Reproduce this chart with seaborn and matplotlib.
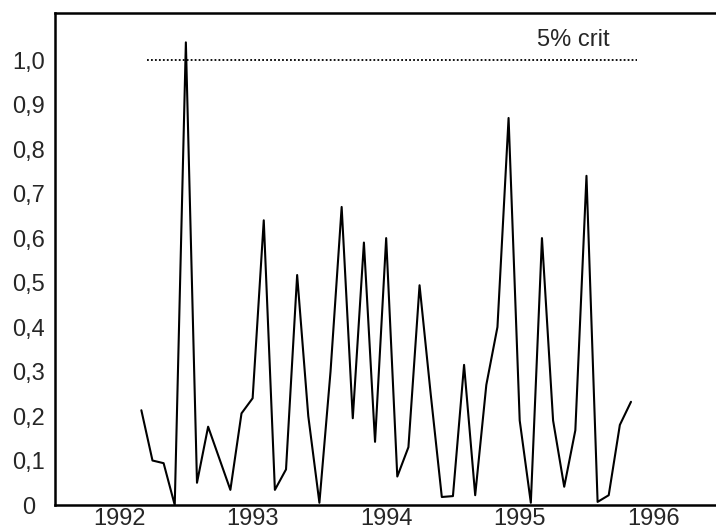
import numpy as np
import pandas as pd
import matplotlib
matplotlib.use('Agg')
import matplotlib.pyplot as plt
import seaborn as sns
from matplotlib.ticker import FuncFormatter, MultipleLocator, FixedLocator

# monthly values, March 1992 .. November 1995
start_year = 1992
start_month = 3
values = [0.213, 0.10, 0.094, 0.0, 1.04, 0.05, 0.176, 0.105, 0.034, 0.206,
          0.24, 0.64, 0.034, 0.08, 0.517, 0.20, 0.005, 0.30, 0.67, 0.195,
          0.59, 0.142, 0.60, 0.064, 0.13, 0.494, 0.25, 0.018, 0.02, 0.315,
          0.022, 0.27, 0.40, 0.87, 0.19, 0.005, 0.60, 0.19, 0.041, 0.168,
          0.74, 0.007, 0.022, 0.18, 0.232]
year_ticks = [1992, 1993, 1994, 1995, 1996]
y_ticks = [0.0, 0.1, 0.2, 0.3, 0.4, 0.5, 0.6, 0.7, 0.8, 0.9, 1.0]
crit_value = 1.0
crit_span = [1992.21, 1995.88]
crit_label = '5% crit'

t = [start_year + (start_month - 1 + i) / 12 for i in range(len(values))]
df = pd.DataFrame({'t': t, 'value': values})

sns.set_style('white')
plt.rcParams['font.family'] = ['Liberation Sans', 'DejaVu Sans']

fig = plt.figure(figsize=(7.16, 5.31), dpi=100)
ax = fig.add_axes([55 / 716, 26 / 531, 661 / 716, 492 / 531])

sns.lineplot(data=df, x='t', y='value', ax=ax, color='black', linewidth=1.5)
ax.plot(crit_span, [crit_value, crit_value], color='black', linestyle=(0, (1, 1.2)), linewidth=1.3)
ax.text(1995.40, 1.045, crit_label, ha='center', va='center', fontsize=17)

ax.set_xlim(1991.52, 1996.47)
ax.set_ylim(0, 1.106)
ax.set_xlabel('')
ax.set_ylabel('')

ax.xaxis.set_major_locator(MultipleLocator(0.5))
ax.xaxis.set_major_formatter(FuncFormatter(lambda v, p: f'{int(v)}' if v in year_ticks else ''))
ax.yaxis.set_major_locator(FixedLocator(y_ticks))
ax.yaxis.set_minor_locator(MultipleLocator(0.05))
ax.yaxis.set_major_formatter(FuncFormatter(lambda v, p: '0' if abs(v) < 1e-9 else f'{v:.1f}'.replace('.', ',')))

ax.tick_params(axis='both', which='both', direction='in', color='black', width=1.2, labelsize=17)
ax.tick_params(axis='both', which='major', length=5)
ax.tick_params(axis='y', which='minor', length=3)
ax.tick_params(axis='y', pad=19)
ax.tick_params(axis='x', pad=2)
for lab in ax.get_yticklabels():
    lab.set_horizontalalignment('center')

for side in ['left', 'bottom', 'top']:
    ax.spines[side].set_color('black')
    ax.spines[side].set_linewidth(1.8)
ax.spines['right'].set_visible(False)

fig.savefig('out.png', dpi=100)
